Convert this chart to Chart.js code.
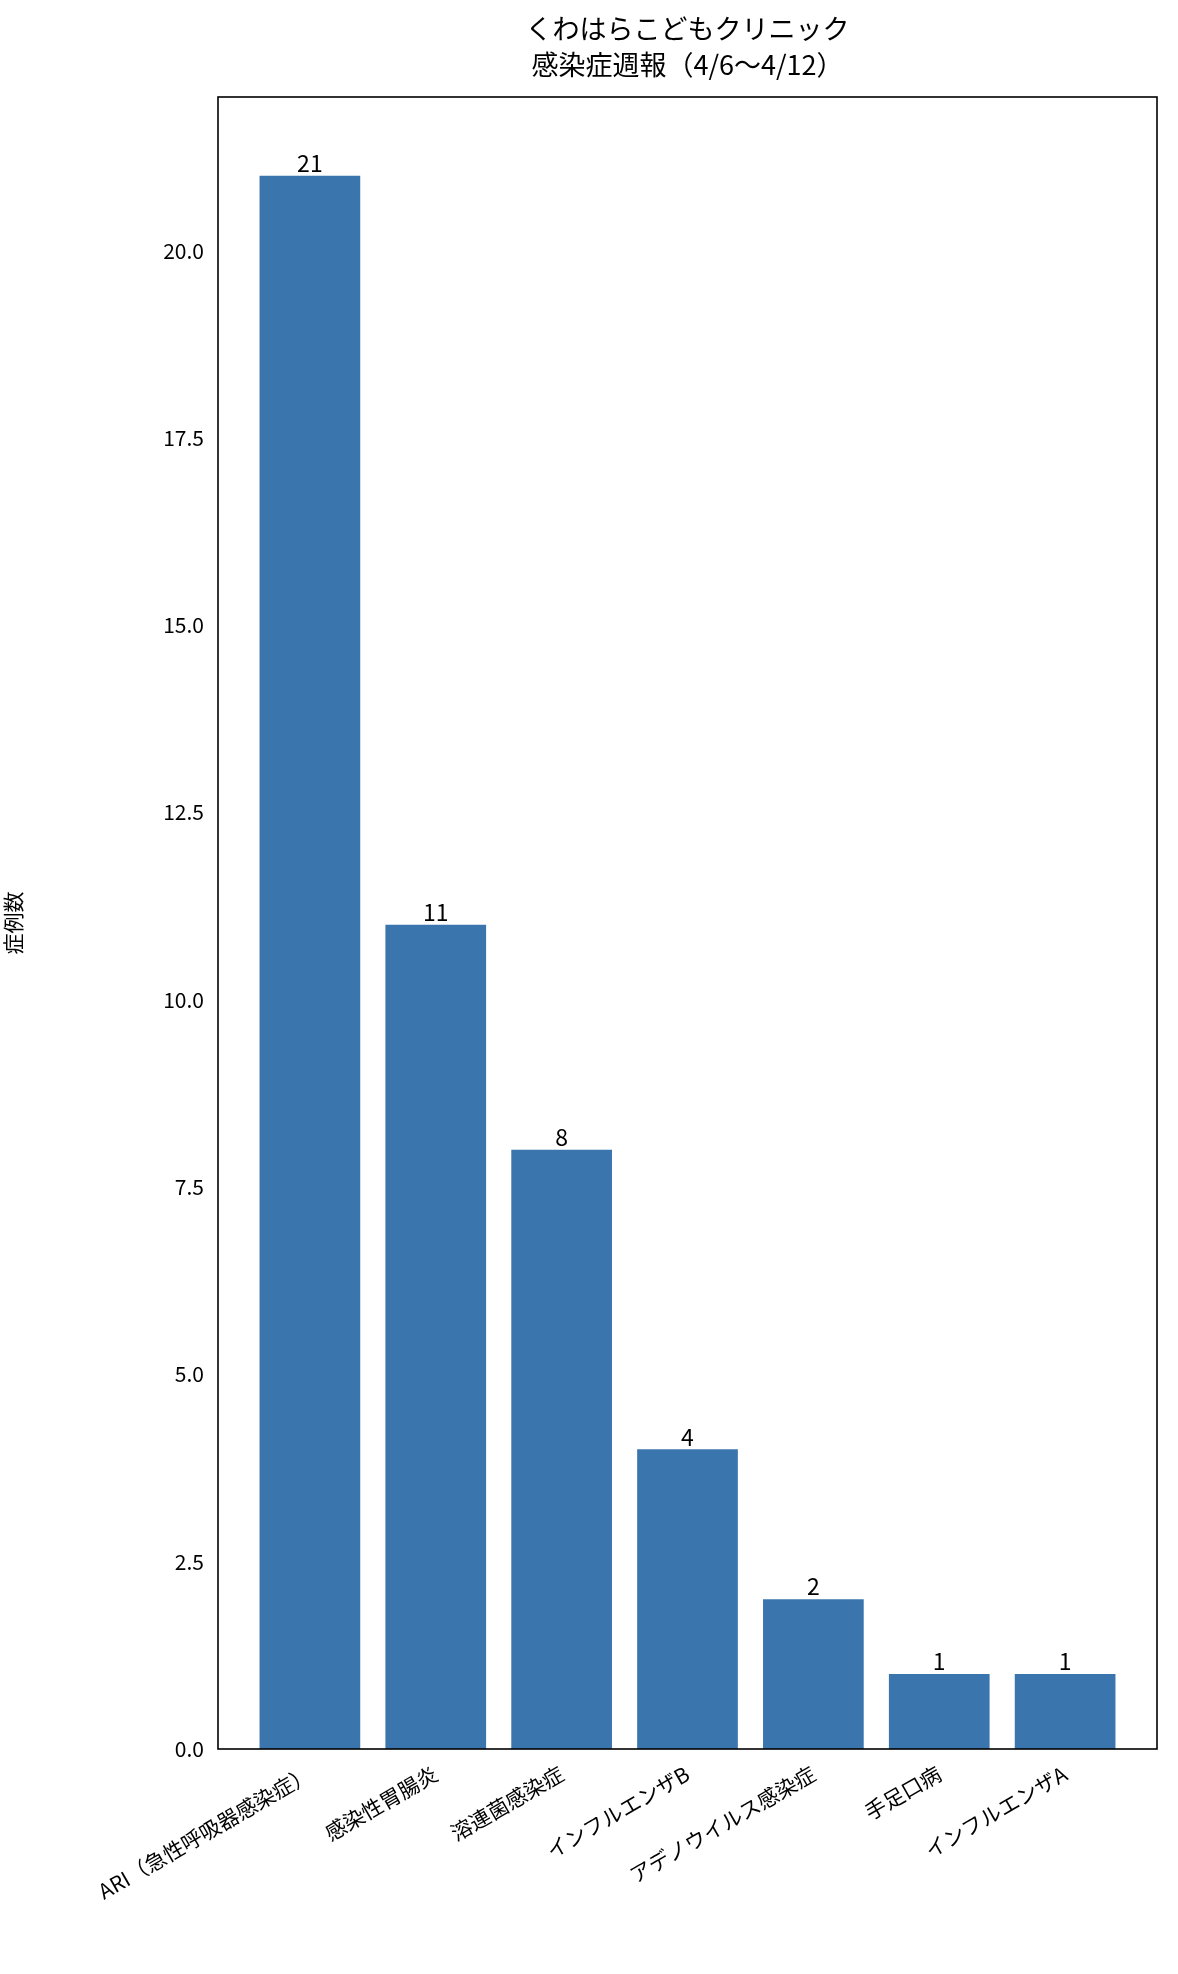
<!DOCTYPE html>
<html><head><meta charset="utf-8">
<script src="https://cdn.jsdelivr.net/npm/chart.js@4"></script>
<style>html,body{margin:0;padding:0;background:#fff}#w{width:1178px;height:1974px}</style>
</head><body><div id="w"><canvas id="c"></canvas></div>
<script>
const categories=["ARI（急性呼吸器感染症）","感染性胃腸炎","溶連菌感染症","インフルエンザB","アデノウイルス感染症","手足口病","インフルエンザA"];
const counts=[21,11,8,4,2,1,1];
const titleLines=["くわはらこどもクリニック","感染症週報（4/6〜4/12）"];
const yTitle="症例数";
const FONT="'Noto Sans CJK JP', 'Noto Sans', sans-serif";
const pts=counts.map((v,i)=>({x:i,y:v}));
const deco={id:'deco',afterDraw(ch){const c=ch.ctx,a=ch.chartArea,x=ch.scales.x,y=ch.scales.y;
 c.save();c.strokeStyle='#000';c.lineWidth=1.6;c.strokeRect(a.left,a.top,a.right-a.left,a.bottom-a.top);
 c.fillStyle='#000';c.font="23px "+FONT;c.textAlign='center';c.textBaseline='bottom';
 pts.forEach(p=>c.fillText(String(p.y),x.getPixelForValue(p.x),y.getPixelForValue(p.y)-1));
 c.font="27px "+FONT;c.textBaseline='middle';
 c.fillText(titleLines[0],(a.left+a.right)/2,29);c.fillText(titleLines[1],(a.left+a.right)/2,65);
 c.restore();}};
new Chart(document.getElementById('c'),{type:'bar',
 data:{datasets:[{data:pts,backgroundColor:'#3a75ae',barPercentage:0.8,categoryPercentage:1}]},
 options:{responsive:true,maintainAspectRatio:false,animation:false,
  layout:{padding:{top:97,right:21,left:0,bottom:0}},
  plugins:{legend:{display:false},tooltip:{enabled:false}},
  scales:{
   x:{type:'linear',min:-0.73,max:6.73,offset:false,grid:{display:false,drawTicks:true},border:{display:false},
    afterBuildTicks(s){s.ticks=categories.map((_,i)=>({value:i}));},
    afterFit(s){s.height=225;},
    ticks:{autoSkip:false,minRotation:30,maxRotation:30,color:'#000',font:{size:21,family:FONT},padding:4,
     callback:(v)=>categories[v]}},
   y:{min:0,max:22.05,grid:{display:false},border:{display:false},
    afterBuildTicks(s){const t=[];for(let v=0;v<=20;v+=2.5)t.push({value:v});s.ticks=t;},
    afterFit(s){s.width=218;},
    title:{display:true,text:yTitle,color:'#000',font:{size:21,family:FONT},padding:0},
    ticks:{color:'#000',font:{size:21,family:FONT},padding:6,callback:v=>v.toFixed(1)}}
  }},plugins:[deco]});
</script></body></html>
